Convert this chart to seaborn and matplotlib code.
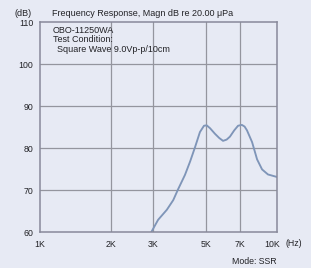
import matplotlib
matplotlib.use("Agg")
import matplotlib.pyplot as plt
import matplotlib.transforms as mtransforms
import seaborn as sns
import pandas as pd

freq_hz = [2950, 3150, 3430, 3650, 3820, 4090, 4300, 4510, 4730, 4920, 5050, 5220,
           5470, 5700, 5920, 6130, 6330, 6600, 6850, 7110, 7300, 7470, 7850, 8240,
           8650, 9160, 10000]
level_db = [60.0, 62.9, 65.3, 67.6, 70.1, 73.6, 76.8, 80.2, 83.8, 85.3, 85.4, 84.7,
            83.4, 82.4, 81.7, 82.0, 82.7, 84.2, 85.3, 85.5, 85.1, 84.2, 81.4, 77.3,
            74.9, 73.7, 73.1]
x_ticks = [1000, 2000, 3000, 5000, 7000, 10000]
x_labels = ["1K", "2K", "3K", "5K", "7K", "10K"]
y_ticks = [60, 70, 80, 90, 100, 110]

df = pd.DataFrame({"freq": freq_hz, "db": level_db})

sns.set_style("white")
plt.rcParams['font.family'] = ['Liberation Sans', 'DejaVu Sans']

bg = "#e7eaf4"
txt = "#222226"
fs = 6.5
fig = plt.figure(figsize=(3.11, 2.68), dpi=100, facecolor=bg)
ax = fig.add_axes([40/311, 1-232/268, 237/311, 210/268])
ax.set_facecolor(bg)

sns.lineplot(data=df, x="freq", y="db", ax=ax, color="#7f95b8", linewidth=1.35)

ax.set_xscale("log")
ax.set_xlim(1000, 10000)
ax.set_ylim(60, 110)
ax.set_xticks(x_ticks)
ax.set_xticklabels(x_labels)
ax.xaxis.set_minor_locator(matplotlib.ticker.NullLocator())
ax.set_yticks(y_ticks)
ax.set_yticklabels([str(v) for v in y_ticks])
ax.tick_params(axis="both", length=0, labelsize=6.3, colors=txt)
ax.tick_params(axis="x", pad=6)
ax.tick_params(axis="y", pad=5)
ax.set_xlabel("")
ax.set_ylabel("")

shift = mtransforms.ScaledTranslation(-5/100, 0, fig.dpi_scale_trans)
lab10 = ax.get_xticklabels()[-1]
lab10.set_transform(lab10.get_transform() + shift)

for v in [2000, 3000, 5000, 7000]:
    ax.axvline(v, color="#94959e", linewidth=0.9, zorder=0)
for v in [70, 80, 90, 100]:
    ax.axhline(v, color="#94959e", linewidth=0.9, zorder=0)
for s in ax.spines.values():
    s.set_color("#88899a")
    s.set_linewidth(1.1)

fig.text(15/311, 1-13/268, "(dB)", fontsize=fs, color=txt, va="center", ha="left")
fig.text(52/311, 1-13/268, "Frequency Response, Magn dB re 20.00 \u03bcPa", fontsize=fs,
         color=txt, va="center", ha="left")
fig.text(53/311, 1-30.5/268, "OBO-11250WA", fontsize=fs, color=txt, va="center", ha="left")
fig.text(53/311, 1-39.5/268, "Test Condition:", fontsize=fs, color=txt, va="center", ha="left")
fig.text(57/311, 1-50/268, "Square Wave 9.0Vp-p/10cm", fontsize=fs, color=txt, va="center", ha="left")
fig.text(285/311, 1-244/268, "(Hz)", fontsize=6.3, color=txt, va="center", ha="left")
fig.text(232/311, 1-261/268, "Mode: SSR", fontsize=6.3, color=txt, va="center", ha="left")

fig.savefig("out.png", dpi=100, facecolor=bg)
